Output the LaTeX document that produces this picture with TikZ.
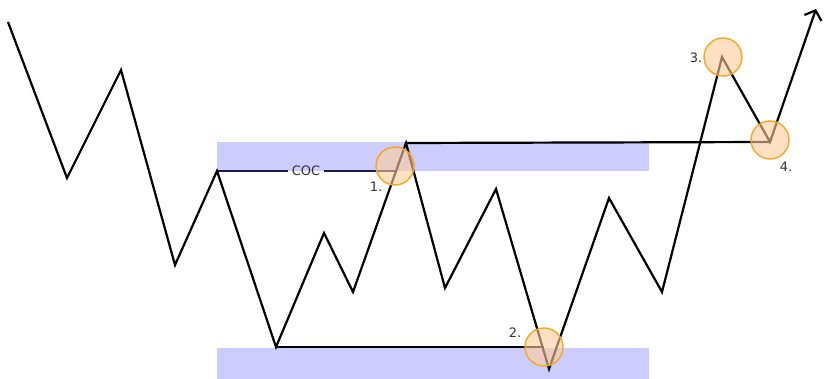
\documentclass[tikz,border=0pt]{standalone}
\usepackage{fontspec}
\setmainfont{DejaVu Sans}
\usetikzlibrary{arrows.meta}
\definecolor{band}{HTML}{CCCCFF}
\definecolor{ringfill}{HTML}{FFCC99}
\definecolor{ringline}{HTML}{F5A623}
\definecolor{lbl}{HTML}{333333}
\definecolor{navy}{HTML}{1A1A4E}
\tikzset{
  x=1pt,y=-1pt,
  bandbox/.style={fill=band,draw=none},
  wave/.style={line width=2.2pt,black,line join=miter},
  level/.style={line width=2.2pt,black},
  ring/.style={circle,minimum size=38pt,inner sep=0pt,draw=ringline,line width=1.4pt,fill=ringfill,fill opacity=0.6},
  lab/.style={text=lbl,font=\fontsize{13}{15}\selectfont,inner sep=1pt}
}
\begin{document}
\begin{tikzpicture}
\useasboundingbox (0,0) rectangle (824,379);
\fill[band] (217,142) rectangle (649,171);
\fill[band] (217,348) rectangle (649,379);
\coordinate (p0) at (8,22);
\coordinate (p1) at (67,178);
\coordinate (p2) at (121,70);
\coordinate (p3) at (175,265);
\coordinate (p4) at (217,171);
\coordinate (p5) at (276,347);
\coordinate (p6) at (324,233);
\coordinate (p7) at (353,292);
\coordinate (p8) at (406,143);
\coordinate (p9) at (445,288);
\coordinate (p10) at (496,189);
\coordinate (p11) at (549,369);
\coordinate (p12) at (609,198);
\coordinate (p13) at (662,292);
\coordinate (p14) at (722,57);
\coordinate (p15) at (770,142);
\coordinate (p16) at (816,9);
\coordinate (c1) at (396,171);
\coordinate (c2) at (544,347);
\draw[level] (p8) -- (p15);
\draw[level] (p5) -- (c2);
\node[lab,inner sep=4pt] (coc) at (306,171) {COC};
\draw[line width=2.2pt,navy] (p4) -- (coc.west);
\draw[line width=2.2pt,navy] (coc.east) -- (c1);
\draw[wave,-{Straight Barb[length=8pt,width=18pt,line width=2.2pt]}] (p0) -- (p1) -- (p2) -- (p3) -- (p4) -- (p5) -- (p6) -- (p7) -- (p8) -- (p9) -- (p10) -- (p11) -- (p12) -- (p13) -- (p14) -- (p15) -- (p16);
\node[ring] (r1) at (395,166) {};
\node[ring] (r2) at (544,347) {};
\node[ring] (r3) at (723,57) {};
\node[ring] (r4) at (770,140) {};
\node[lab] (l1) at (376,187) {1.};
\node[lab] (l2) at (515,333) {2.};
\node[lab] (l3) at (696,58) {3.};
\node[lab] (l4) at (786,167) {4.};
\end{tikzpicture}
\end{document}
